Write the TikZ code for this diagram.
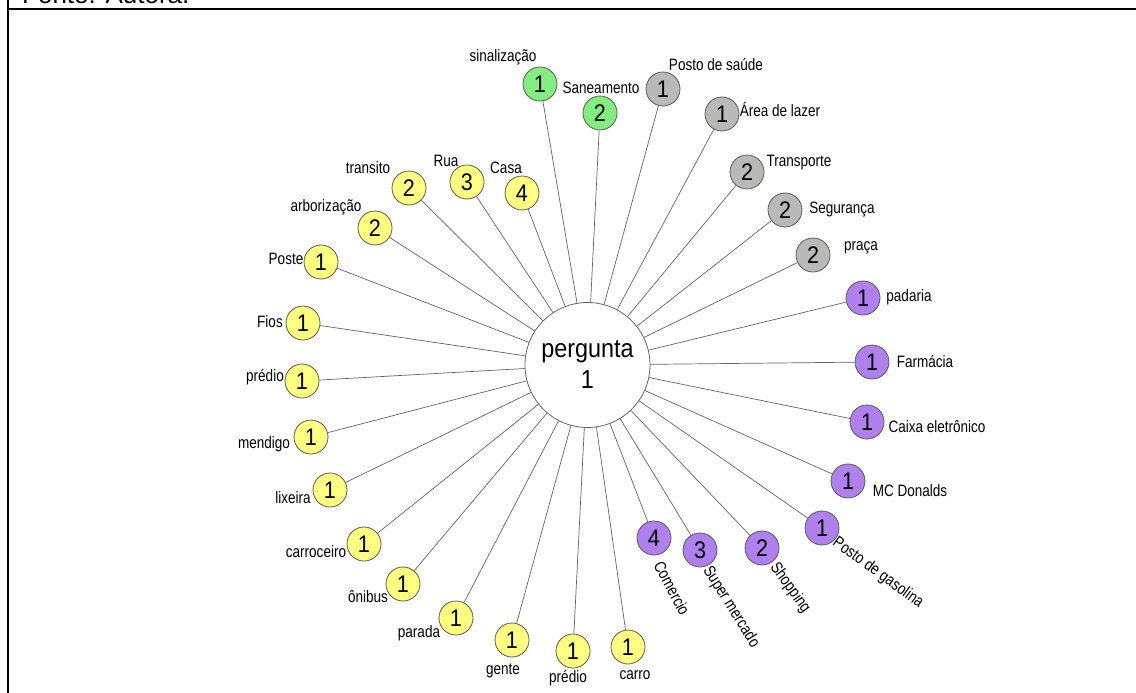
\documentclass[tikz,border=0pt]{standalone}
\usepackage{fontspec}
\setmainfont[FakeStretch=0.82]{Liberation Sans}
\newfontfamily\capfont{Liberation Sans}
\newfontfamily\numfont[FakeStretch=0.9]{Liberation Sans}
\definecolor{cyel}{RGB}{255,255,128}
\definecolor{cgrn}{RGB}{130,238,130}
\definecolor{cgry}{RGB}{185,185,185}
\definecolor{cpur}{RGB}{176,128,238}
\definecolor{cedge}{RGB}{90,90,80}
\definecolor{cline}{RGB}{100,100,100}
\tikzset{
  bub/.style={circle, draw=cedge, line width=0.8pt, minimum size=34pt, inner sep=0pt, font=\numfont\fontsize{24}{26}\selectfont},
  yb/.style={bub, fill=cyel},
  gb/.style={bub, fill=cgrn},
  sb/.style={bub, fill=cgry},
  pb/.style={bub, fill=cpur},
  lab/.style={inner sep=0pt, font=\fontsize{16.5}{18}\selectfont},
  spoke/.style={draw=cline, line width=0.7pt},
  hub/.style={circle, draw=cline, line width=0.8pt, fill=white, minimum size=125pt, inner sep=0pt, align=center, font=\numfont\fontsize{26}{31}\selectfont},
  frame/.style={line width=2pt}
}
\begin{document}
\begin{tikzpicture}[x=1pt,y=-1pt]
\useasboundingbox (0,0) rectangle (1136,693);
\draw[frame] (8,0) -- (8,693);
\draw[frame] (7,9) -- (1136,9);
\node[anchor=base west, inner sep=0pt] (fonte) at (22,4) {\capfont\fontsize{26}{30}\selectfont Fonte: Autora.};

\node[hub] (c) at (587.5,365) {pergunta\\1};

% green
\node[gb] (g1) at (540,84) {1};
\node[gb] (g2) at (600,113) {2};
% gray
\node[sb] (s1) at (663,89) {1};
\node[sb] (s2) at (722,114) {1};
\node[sb] (s3) at (747,172) {2};
\node[sb] (s4) at (785,210) {2};
\node[sb] (s5) at (813,255) {2};
% purple
\node[pb] (p1) at (863,298) {1};
\node[pb] (p2) at (872,362) {1};
\node[pb] (p3) at (867,422) {1};
\node[pb] (p4) at (848,481) {1};
\node[pb] (p5) at (822,528) {1};
\node[pb] (p6) at (762,548) {2};
\node[pb] (p7) at (700,550) {3};
\node[pb] (p8) at (654,538) {4};
% yellow
\node[yb] (y1) at (628,647) {1};
\node[yb] (y2) at (573,651) {1};
\node[yb] (y3) at (512,640) {1};
\node[yb] (y4) at (456,618) {1};
\node[yb] (y5) at (403,584) {1};
\node[yb] (y6) at (364,544) {1};
\node[yb] (y7) at (330,490) {1};
\node[yb] (y8) at (311,437) {1};
\node[yb] (y9) at (302,381) {1};
\node[yb] (y10) at (303,323) {1};
\node[yb] (y11) at (321,262) {1};
\node[yb] (y12) at (375,228) {2};
\node[yb] (y13) at (409,188) {2};
\node[yb] (y14) at (467,182) {3};
\node[yb] (y15) at (522,193) {4};

\foreach \n in {g1,g2,s1,s2,s3,s4,s5,p1,p2,p3,p4,p5,p6,p7,p8,y1,y2,y3,y4,y5,y6,y7,y8,y9,y10,y11,y12,y13,y14,y15}
  \draw[spoke] (\n) -- (c);

% labels
\node[lab] (lg1) at (503,57) {sinalização};
\node[lab] (lg2) at (601,88) {Saneamento};
\node[lab] (ls1) at (716,65) {Posto de saúde};
\node[lab] (ls2) at (780,109) {Área de lazer};
\node[lab] (ls3) at (799,163) {Transporte};
\node[lab] (ls4) at (842,209) {Segurança};
\node[lab] (ls5) at (861,248) {praça};
\node[lab] (lp1) at (909,297) {padaria};
\node[lab] (lp2) at (925,362) {Farmácia};
\node[lab] (lp3) at (937,427) {Caixa eletrônico};
\node[lab] (lp4) at (910,491) {MC Donalds};
\node[lab, rotate=-36] (lp5) at (878,573) {Posto de gasolina};
\node[lab, rotate=-54] (lp6) at (790,588) {Shopping};
\node[lab, rotate=-58] (lp7) at (731,607) {Super mercado};
\node[lab, rotate=-62] (lp8) at (672,588) {Comercio};
\node[lab] (ly1) at (635,675) {carro};
\node[lab] (ly2) at (568,678) {prédio};
\node[lab] (ly3) at (503,671) {gente};
\node[lab] (ly4) at (419,633) {parada};
\node[lab] (ly5) at (368,597) {ônibus};
\node[lab] (ly6) at (316,552) {carroceiro};
\node[lab] (ly7) at (293,498) {lixeira};
\node[lab] (ly8) at (264,444) {mendigo};
\node[lab] (ly9) at (265,377) {prédio};
\node[lab] (ly10) at (270,322) {Fios};
\node[lab] (ly11) at (286,259) {Poste};
\node[lab] (ly12) at (326,207) {arborização};
\node[lab] (ly13) at (368,168) {transito};
\node[lab] (ly14) at (446,161) {Rua};
\node[lab] (ly15) at (506,168) {Casa};
\end{tikzpicture}
\end{document}
